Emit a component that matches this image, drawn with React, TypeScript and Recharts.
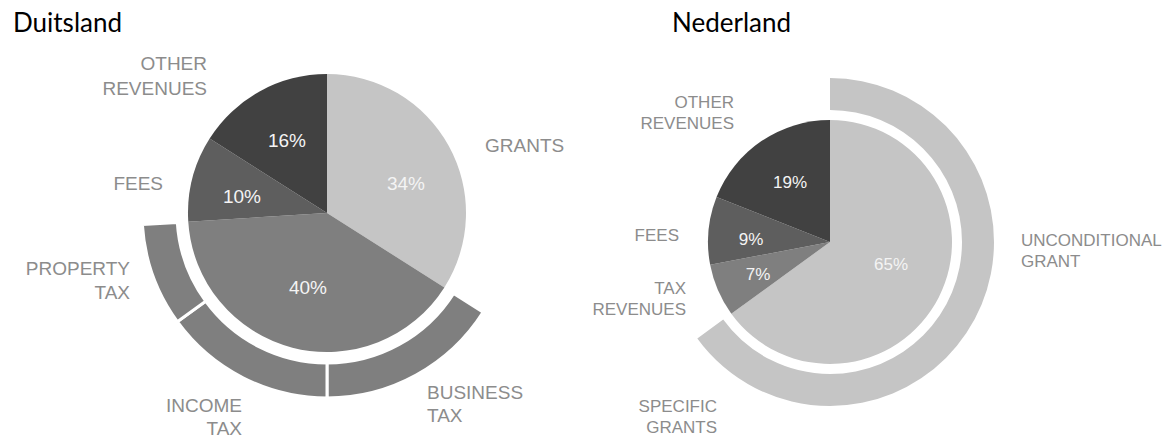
import React from 'react'
import { PieChart, Pie, Cell } from 'recharts'

// Duitsland
const deCategories = ['GRANTS', 'TAXES', 'FEES', 'OTHER REVENUES']
const deShares = [34, 40, 10, 16]
const deTaxCategories = ['BUSINESS TAX', 'INCOME TAX', 'PROPERTY TAX']
const deTaxShares = [16, 15, 9]

// Nederland
const nlCategories = ['GRANTS', 'TAX REVENUES', 'FEES', 'OTHER REVENUES']
const nlShares = [65, 7, 9, 19]
const nlGrantCategories = ['UNCONDITIONAL GRANT', 'SPECIFIC GRANTS']
const nlGrantShares = [50, 15]

const deColors = ['#c5c5c5', '#7f7f7f', '#5e5e5e', '#414141']
const nlColors = ['#c5c5c5', '#7f7f7f', '#5e5e5e', '#414141']
const LABEL_GREY = '#8c8c8c'
const FONT = '"Liberation Sans", Arial, sans-serif'

type Place = { anchor: 'start' | 'end' | 'middle'; dx: number; dy: number[] }

// label offsets from the pie centre
const deNamePlaces: Record<string, Place> = {
  'OTHER REVENUES': { anchor: 'end', dx: -120, dy: [-150, -125] },
  GRANTS: { anchor: 'start', dx: 158, dy: [-68] },
  FEES: { anchor: 'end', dx: -164, dy: [-30] },
  'PROPERTY TAX': { anchor: 'end', dx: -197, dy: [55, 79] },
  'INCOME TAX': { anchor: 'end', dx: -85, dy: [192, 215] },
  'BUSINESS TAX': { anchor: 'start', dx: 100, dy: [179, 202] },
}
const dePctPlaces = [
  [79, -30],
  [-19, 74],
  [-85, -17],
  [-40, -73],
]

const nlNamePlaces: Record<string, Place> = {
  'OTHER REVENUES': { anchor: 'end', dx: -96, dy: [-140, -119] },
  FEES: { anchor: 'end', dx: -151, dy: [-7] },
  'TAX REVENUES': { anchor: 'end', dx: -144, dy: [46, 67] },
  'UNCONDITIONAL GRANT': { anchor: 'start', dx: 191, dy: [-2, 19] },
  'SPECIFIC GRANTS': { anchor: 'end', dx: -113, dy: [164, 185] },
}
const nlPctPlaces = [
  [61, 22],
  [-72, 32],
  [-79, -3],
  [-40, -60],
]

const toData = (names: string[], values: number[]) => names.map((name, i) => ({ name, value: values[i] }))

function makeLabel(places: Record<string, Place>, size: number, pct?: number[][]) {
  return (p: any) => {
    const { cx, cy, name, value, index } = p
    const place = places[name]
    const lines = name.split(' ')
    const txt = { fontFamily: FONT, fontSize: size }
    return (
      <g>
        {pct && (
          <text
            x={cx + pct[index][0]}
            y={cy + pct[index][1]}
            textAnchor="middle"
            dominantBaseline="central"
            fill="#f4f4f4"
            style={txt}
          >
            {value}%
          </text>
        )}
        {place &&
          place.dy.map((d, i) => (
            <text
              key={i}
              x={cx + place.dx}
              y={cy + d}
              textAnchor={place.anchor}
              dominantBaseline="central"
              fill={LABEL_GREY}
              style={txt}
            >
              {place.dy.length === 1 ? name : lines[i]}
            </text>
          ))}
      </g>
    )
  }
}

const titleStyle: React.CSSProperties = {
  position: 'absolute',
  top: 9,
  fontFamily: 'Lato, "Open Sans", sans-serif',
  fontSize: 26,
  lineHeight: 1,
  color: '#000',
}

export default function App() {
  const deTaxStart = 90 - (360 * deShares[0]) / 100
  const deTaxEnd = deTaxStart - (360 * deShares[1]) / 100
  const nlGrantEnd = 90 - (360 * nlShares[0]) / 100

  return (
    <div style={{ position: 'absolute', left: 0, top: 0, width: 1170, height: 439, background: '#fff' }}>
      <div style={{ ...titleStyle, left: 13 }}>Duitsland</div>
      <div style={{ ...titleStyle, left: 672 }}>Nederland</div>
      <PieChart width={1170} height={439} margin={{ top: 0, right: 0, bottom: 0, left: 0 }}>
        <Pie
          data={toData(deCategories, deShares)}
          dataKey="value"
          nameKey="name"
          cx={327}
          cy={213}
          outerRadius={139}
          startAngle={90}
          endAngle={-270}
          stroke="none"
          labelLine={false}
          label={makeLabel(deNamePlaces, 19, dePctPlaces)}
          isAnimationActive={false}
        >
          {deShares.map((_, i) => (
            <Cell key={i} fill={deColors[i]} />
          ))}
        </Pie>
        <Pie
          data={toData(deTaxCategories, deTaxShares)}
          dataKey="value"
          nameKey="name"
          cx={327}
          cy={213}
          innerRadius={150}
          outerRadius={185}
          startAngle={deTaxStart}
          endAngle={deTaxEnd}
          stroke="#fff"
          strokeWidth={3}
          labelLine={false}
          label={makeLabel(deNamePlaces, 19)}
          isAnimationActive={false}
        >
          {deTaxShares.map((_, i) => (
            <Cell key={i} fill="#7f7f7f" />
          ))}
        </Pie>
        <Pie
          data={toData(nlCategories, nlShares)}
          dataKey="value"
          nameKey="name"
          cx={830}
          cy={242}
          outerRadius={122}
          startAngle={90}
          endAngle={-270}
          stroke="none"
          labelLine={false}
          label={makeLabel(nlNamePlaces, 17, nlPctPlaces)}
          isAnimationActive={false}
        >
          {nlShares.map((_, i) => (
            <Cell key={i} fill={nlColors[i]} />
          ))}
        </Pie>
        <Pie
          data={toData(nlGrantCategories, nlGrantShares)}
          dataKey="value"
          nameKey="name"
          cx={830}
          cy={242}
          innerRadius={132}
          outerRadius={164}
          startAngle={90}
          endAngle={nlGrantEnd}
          stroke="none"
          labelLine={false}
          label={makeLabel(nlNamePlaces, 17)}
          isAnimationActive={false}
        >
          {nlGrantShares.map((_, i) => (
            <Cell key={i} fill="#c5c5c5" />
          ))}
        </Pie>
      </PieChart>
    </div>
  )
}
